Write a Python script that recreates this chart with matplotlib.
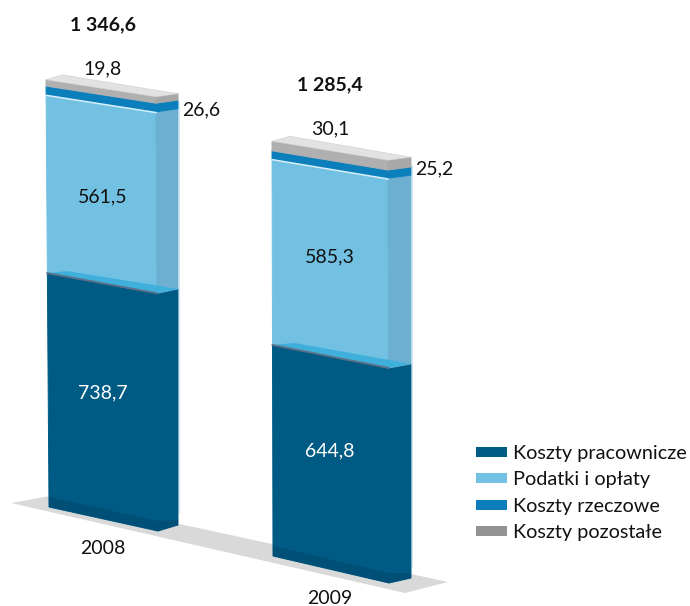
import matplotlib
matplotlib.use("Agg")
import matplotlib.pyplot as plt
from matplotlib.patches import Polygon, Patch

plt.rcParams['font.family'] = ['Lato', 'DejaVu Sans']

# ---- data ----
years = ['2008', '2009']
series_names = ['Koszty pracownicze', 'Podatki i opłaty', 'Koszty rzeczowe', 'Koszty pozostałe']
pracownicze = [738.7, 644.8]
podatki = [561.5, 585.3]
rzeczowe = [26.6, 25.2]
pozostale = [19.8, 30.1]
totals = [1346.6, 1285.4]
value_labels = [['738,7', '561,5', '26,6', '19,8'], ['644,8', '585,3', '25,2', '30,1']]
total_labels = ['1 346,6', '1 285,4']

# ---- style / geometry ----
FRONT = ['#005b84', '#72c1e3', '#0a7fbc', '#b0b0b0']
SIDE = ['#005b84', '#6cafd1', '#0a7fbc', '#a8a8a8']
PLINTH = '#004f76'
LEGEND = ['#005b84', '#72c1e3', '#0a7dba', '#939393']
SCALE = 0.318  # pixels per unit
GEOM = [
    dict(xl0=49, xl1=46, xf0=158, xf1=156, xs=178, zero=508, floor=507, strip=10,
         d0=24, d1=17, r0=6, r1=3, back=16),
    dict(xl0=273, xl1=272, xf0=389, xf1=388, xs=411, zero=550, floor=556, strip=10,
         d0=27, d1=19, r0=5, r1=3, back=18),
]
LABEL_POS = [
    dict(x=103, seg=[393, 197], top=69, side=(201, 110), total=25, year=549),
    dict(x=330, seg=[451, 257], top=129, side=(434, 169), total=85, year=598),
]

fig = plt.figure(figsize=(6.9, 6.06), dpi=100)
ax = fig.add_axes([0, 0, 1, 1])
ax.set_xlim(0, 690)
ax.set_ylim(606, 0)
ax.axis('off')

ax.add_patch(Polygon([(11, 503), (50, 496), (448, 582), (405, 593)], fc='#d9d9d9', ec='none', zorder=1))


def corners(g, v, total):
    """Screen corners of a bar's cross-section at cumulative value v."""
    t = v / total
    y = g['zero'] - v * SCALE
    xl = g['xl0'] + (g['xl1'] - g['xl0']) * t
    xf = g['xf0'] + (g['xf1'] - g['xf0']) * t
    d = g['d0'] + (g['d1'] - g['d0']) * t
    r = g['r0'] + (g['r1'] - g['r0']) * t
    return (xl, y), (xf, y + d), (g['xs'], y + d - r)


series = [pracownicze, podatki, rzeczowe, pozostale]
for i, g in enumerate(GEOM):
    total = totals[i]
    bottom_a = (g['xl0'], g['floor'])
    bottom_b = (g['xf0'], g['floor'] + g['d0'])
    bottom_c = (g['xs'], g['floor'] + g['d0'] - g['r0'])
    cum = 0.0
    for j, s in enumerate(series):
        top = cum + s[i]
        a1, b1, c1 = corners(g, top, total)
        if j == 0:
            a0, b0, c0 = bottom_a, bottom_b, bottom_c
        else:
            a0, b0, c0 = corners(g, cum, total)
        ax.add_patch(Polygon([a0, b0, b1, a1], fc=FRONT[j], ec=FRONT[j], lw=0.7, zorder=3))
        ax.add_patch(Polygon([b0, c0, c1, b1], fc=SIDE[j], ec=SIDE[j], lw=0.7, zorder=3))
        if j == 0:
            # darker plinth, seam and translucent top of the lower block
            s_h = g['strip']
            ax.add_patch(Polygon([a0, b0, c0, (c0[0], c0[1] - 5), (b0[0], b0[1] - s_h), (a0[0], a0[1] - s_h)],
                                 fc=PLINTH, ec='none', zorder=4))
            bk = g['back']
            ax.add_patch(Polygon([a1, (a1[0] + bk + 4, a1[1] - 2), c1, b1], fc='#3fb0dc', ec='none', zorder=4))
            ax.plot([a1[0], b1[0]], [a1[1], b1[1]], color='#5b6f86', lw=1.3, zorder=5)
        if j == 1:
            ax.plot([a1[0], b1[0]], [a1[1] + 0.8, b1[1] + 0.8], color='#d6eff9', lw=1.1, zorder=5)
        cum = top
        last = (a1, b1, c1)
    a1, b1, c1 = last
    # lit top face of the whole stack
    bk = g['back']
    ax.add_patch(Polygon([a1, (a1[0] + bk, a1[1] - 5), c1, b1], fc='#e2e2e2', ec='#cfcfcf', lw=0.4, zorder=6))
    # pale edge along the right of the block
    ax.plot([g['xs'] + 0.6] * 2, [c1[1] + 8, bottom_c[1] - 12], color='#d3e9f3', lw=0.8, zorder=2.5)

    lab = LABEL_POS[i]
    kw = dict(ha='center', va='center', fontsize=14, zorder=8, color='#111111')
    ax.text(lab['x'], lab['seg'][0], value_labels[i][0], **{**kw, 'color': 'white'})
    ax.text(lab['x'], lab['seg'][1], value_labels[i][1], **kw)
    ax.text(lab['x'], lab['top'], value_labels[i][3], **kw)
    ax.text(lab['side'][0], lab['side'][1], value_labels[i][2], **kw)
    ax.text(lab['x'], lab['total'], total_labels[i], fontweight='bold', **kw)
    ax.text(lab['x'], lab['year'], years[i], **kw)

handles = [Patch(fc=c, ec='none') for c in LEGEND]
ax.legend(handles, series_names, loc='upper left', bbox_to_anchor=(476 / 690, 1 - 445 / 606),
          bbox_transform=fig.transFigure, frameon=False, fontsize=14.3,
          handlelength=1.56, handleheight=0.4, handletextpad=0.3, labelspacing=0.47,
          borderpad=0, borderaxespad=0, labelcolor='#111111')

fig.savefig('out.png', dpi=100)
